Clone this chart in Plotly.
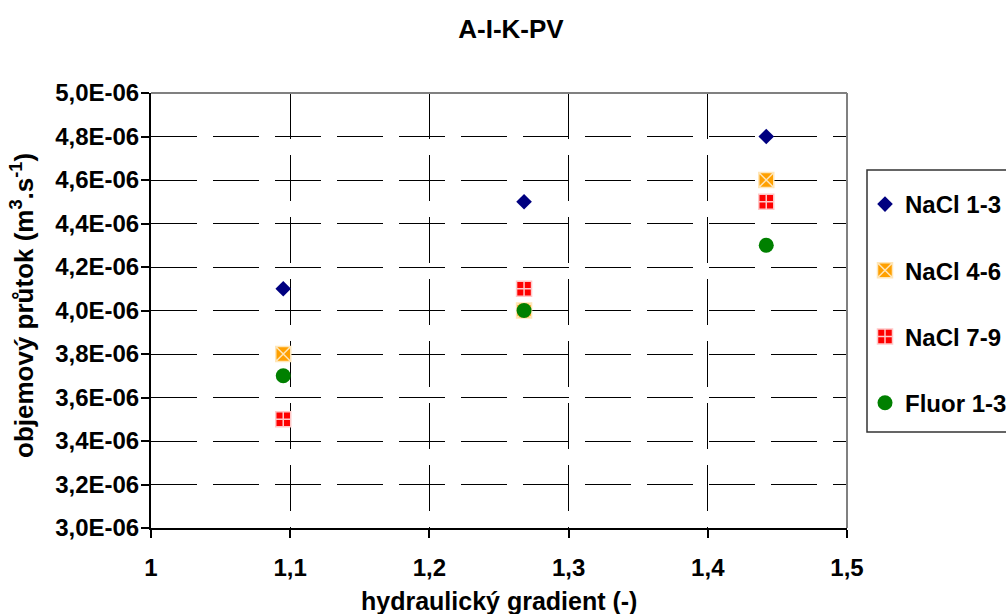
import plotly.graph_objects as go

# ---- data ----
series_names = ["NaCl 1-3", "NaCl 4-6", "NaCl 7-9", "Fluor 1-3"]
gradient_x = [1.095, 1.268, 1.442]
nacl_1_3 = [4.1e-6, 4.5e-6, 4.8e-6]
nacl_4_6 = [3.8e-6, 4.0e-6, 4.6e-6]
nacl_7_9 = [3.5e-6, 4.1e-6, 4.5e-6]
fluor_1_3 = [3.7e-6, 4.0e-6, 4.3e-6]

x_tickvals = [1.0, 1.1, 1.2, 1.3, 1.4, 1.5]
x_ticktext = ["1", "1,1", "1,2", "1,3", "1,4", "1,5"]
y_tickvals = [3.0e-6, 3.2e-6, 3.4e-6, 3.6e-6, 3.8e-6, 4.0e-6, 4.2e-6, 4.4e-6, 4.6e-6, 4.8e-6, 5.0e-6]
y_ticktext = ["3,0E-06", "3,2E-06", "3,4E-06", "3,6E-06", "3,8E-06", "4,0E-06",
              "4,2E-06", "4,4E-06", "4,6E-06", "4,8E-06", "5,0E-06"]

FONT = "Liberation Sans, Arial, sans-serif"

styles = [
    dict(symbol="diamond", size=12, color="#000080", line=dict(width=0, color="#000080")),
    dict(symbol="square-x", size=15, color="#FFA000", line=dict(width=1.5, color="#FFE6B8")),
    dict(symbol="square-cross", size=15, color="#FF0000", line=dict(width=1.5, color="#FFC8C8")),
    dict(symbol="circle", size=15, color="#008000", line=dict(width=0, color="#008000")),
]
values = [nacl_1_3, nacl_4_6, nacl_7_9, fluor_1_3]

fig = go.Figure()
for i, (name, vals, st) in enumerate(zip(series_names, values, styles)):
    fig.add_trace(go.Scatter(
        x=gradient_x, y=vals, mode="markers", name=f"<b>{name}</b>",
        legendgroup=f"g{i}",
        marker=st,
    ))

W, H = 1006, 614
L, R, T, B = 151, 159, 93, 86
pw = W - L - R
ph = H - T - B

def px_x(p):
    return (p - L) / pw

def px_y(p):
    return (H - B - p) / ph

fig.update_layout(
    width=W, height=H,
    margin=dict(l=L, r=R, t=T, b=B, autoexpand=False),
    paper_bgcolor="white", plot_bgcolor="white",
    font=dict(family=FONT, size=20, color="black"),
    title=dict(text="<b>A-I-K-PV</b>", x=511 / W, xanchor="center",
               y=1 - 29 / H, yanchor="middle",
               font=dict(family=FONT, size=26, color="black")),
    showlegend=True,
    legend=dict(x=px_x(865), xanchor="left", y=px_y(182), yanchor="top",
                bgcolor="rgba(0,0,0,0)", borderwidth=0,
                tracegroupgap=32, itemwidth=30,
                font=dict(family=FONT, size=24, color="black")),
    xaxis=dict(range=[1.0, 1.5], tickvals=x_tickvals,
               ticktext=[f"<b>{t}</b>" for t in x_ticktext],
               showline=True, linecolor="black", linewidth=2,
               ticks="outside", ticklen=8, tickwidth=2, tickcolor="black",
               ticklabelstandoff=9,
               tickfont=dict(family=FONT, size=24, color="black"),
               showgrid=True, gridcolor="black", gridwidth=1, griddash="46px,16px",
               zeroline=False),
    yaxis=dict(range=[3.0e-6, 5.0e-6], tickvals=y_tickvals,
               ticktext=[f"<b>{t}</b>" for t in y_ticktext],
               showline=True, linecolor="black", linewidth=2,
               ticks="outside", ticklen=8, tickwidth=2, tickcolor="black",
               ticklabelstandoff=-3,
               tickfont=dict(family=FONT, size=24, color="black"),
               showgrid=True, gridcolor="black", gridwidth=1, griddash="46px,16px",
               zeroline=False),
    shapes=[
        dict(type="line", xref="paper", yref="paper", x0=0, x1=1, y0=1, y1=1,
             line=dict(color="#808080", width=2)),
        dict(type="line", xref="paper", yref="paper", x0=1, x1=1, y0=0, y1=1,
             line=dict(color="#808080", width=2)),
        dict(type="rect", xref="paper", yref="paper",
             x0=px_x(867), x1=px_x(1030), y0=px_y(432), y1=px_y(170),
             line=dict(color="#333333", width=1.5), fillcolor="rgba(0,0,0,0)"),
    ],
    annotations=[
        dict(text="<b>hydraulický gradient (-)</b>", xref="paper", yref="paper",
             x=px_x(499), y=px_y(601), xanchor="center", yanchor="middle",
             showarrow=False, font=dict(family=FONT, size=25, color="black")),
        dict(text="<b>objemový průtok (m<sup>3</sup>.s<sup>-1</sup>)</b>", xref="paper", yref="paper",
             x=px_x(22), y=px_y(306), xanchor="center", yanchor="middle", textangle=-90,
             showarrow=False, font=dict(family=FONT, size=26, color="black")),
    ],
)

fig.write_html("out.html")
